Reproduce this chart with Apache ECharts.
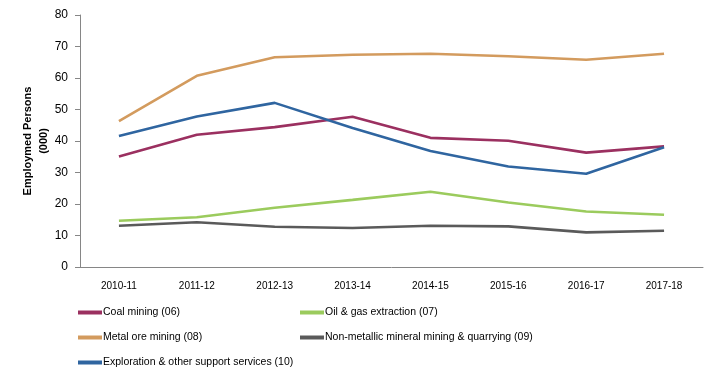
<!DOCTYPE html>
<html>
<head>
<meta charset="utf-8">
<script src="https://cdn.jsdelivr.net/npm/echarts@6/dist/echarts.min.js"></script>
<style>
  html, body { margin: 0; padding: 0; background: #fff; }
  #chart { width: 718px; height: 378px; }
</style>
</head>
<body>
<div id="chart"></div>
<script>
// Employed persons (000) by mining subdivision
var years = ['2010-11', '2011-12', '2012-13', '2013-14', '2014-15', '2015-16', '2016-17', '2017-18'];
var coal = [35.1, 42.0, 44.4, 47.7, 41.0, 40.1, 36.3, 38.3];
var oilGas = [14.7, 15.8, 18.8, 21.3, 23.9, 20.5, 17.6, 16.6];
var metalOre = [46.3, 60.7, 66.6, 67.4, 67.7, 66.9, 65.8, 67.7];
var nonMetallic = [13.1, 14.2, 12.8, 12.4, 13.1, 12.9, 11.0, 11.5];
var exploration = [41.6, 47.8, 52.1, 44.1, 36.8, 31.9, 29.6, 38.0];
var yTicks = [0, 10, 20, 30, 40, 50, 60, 70, 80];

var names = [
    'Coal mining (06)',
    'Oil & gas extraction (07)',
    'Metal ore mining (08)',
    'Non-metallic mineral mining & quarrying (09)',
    'Exploration & other support services (10)'
];
var colors = ['#9B3060', '#9BCB5D', '#D39B5E', '#5A5A5A', '#2F65A0'];
var values = [coal, oilGas, metalOre, nonMetallic, exploration];

var font = 'Liberation Sans';

function makeLegend(left, data) {
    return {
        orient: 'vertical',
        left: left,
        top: 307,
        padding: 0,
        itemWidth: 24,
        itemHeight: 4,
        itemGap: 14,
        icon: 'rect',
        selectedMode: false,
        textStyle: { fontFamily: font, fontSize: 10.5, color: '#000', padding: [0, 0, 0, -4] },
        data: data
    };
}

var myChart = echarts.init(document.getElementById('chart'));
var option = {
    animation: false,
    grid: { left: 80, right: 15, top: 15, bottom: 111 },
    legend: [
        makeLegend(78, [names[0], names[2], names[4]]),
        makeLegend(300, [names[1], names[3]])
    ],
    xAxis: {
        type: 'category',
        data: years,
        boundaryGap: true,
        axisLine: { lineStyle: { color: '#868686' } },
        axisTick: { length: 5, lineStyle: { color: '#868686' } },
        axisLabel: { fontFamily: font, fontSize: 10, color: '#000', margin: 14 }
    },
    yAxis: {
        type: 'value',
        min: yTicks[0],
        max: yTicks[yTicks.length - 1],
        interval: 10,
        name: 'Employmed Persons\n(000)',
        nameLocation: 'middle',
        nameGap: 28,
        nameMoveOverlap: false,
        nameTextStyle: { fontFamily: font, fontSize: 11, fontWeight: 'bold', color: '#000', lineHeight: 16 },
        axisLine: { show: true, lineStyle: { color: '#868686' } },
        axisTick: { show: true, length: 5, lineStyle: { color: '#868686' } },
        splitLine: { show: false },
        axisLabel: { fontFamily: font, fontSize: 12, color: '#000', margin: 12 }
    },
    series: names.map(function (n, i) {
        return {
            name: n,
            type: 'line',
            data: values[i],
            showSymbol: false,
            symbol: 'none',
            color: colors[i],
            lineStyle: { width: 2.6, color: colors[i] }
        };
    })
};
myChart.setOption(option);
</script>
</body>
</html>
